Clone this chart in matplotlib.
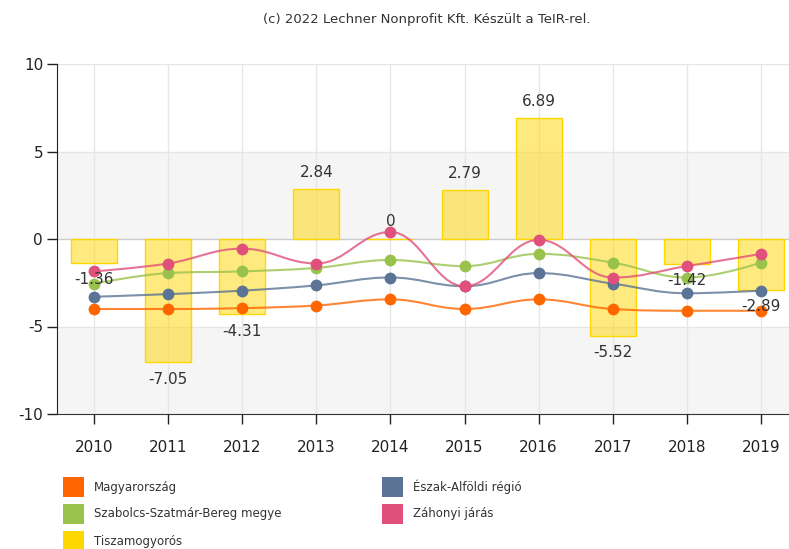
import numpy as np
import matplotlib
matplotlib.use("Agg")
import matplotlib.pyplot as plt
from matplotlib.path import Path
from matplotlib.patches import PathPatch, Patch

plt.rcParams["axes.unicode_minus"] = False

# Data
years = ["2010", "2011", "2012", "2013", "2014", "2015", "2016", "2017", "2018", "2019"]
tiszamogyoros = [-1.36, -7.05, -4.31, 2.84, 0, 2.79, 6.89, -5.52, -1.42, -2.89]
magyarorszag = [-4.0, -4.0, -3.95, -3.8, -3.45, -4.0, -3.45, -4.0, -4.1, -4.1]
eszak_alfold = [-3.3, -3.15, -2.95, -2.65, -2.2, -2.7, -1.95, -2.55, -3.1, -2.95]
szabolcs = [-2.55, -1.95, -1.85, -1.65, -1.2, -1.55, -0.85, -1.35, -2.2, -1.35]
zahonyi = [-1.85, -1.4, -0.55, -1.4, 0.4, -2.7, -0.05, -2.2, -1.55, -0.85]

c_orange = "#ff6600"
c_blue = "#5b7495"
c_green = "#99c24d"
c_pink = "#e0507a"
c_yellow = "#ffd700"


def spline_path(xs, ys):
    # Highcharts-like spline: bezier handles at 0.4 of the gap, clamped to avoid overshoot
    n = len(xs)
    lc = [None] * n
    rc = [None] * n
    for i in range(1, n - 1):
        x, y = xs[i], ys[i]
        px, py = xs[i - 1], ys[i - 1]
        nx, ny = xs[i + 1], ys[i + 1]
        lx, ly = (1.5 * x + px) / 2.5, (1.5 * y + py) / 2.5
        rx, ry = (1.5 * x + nx) / 2.5, (1.5 * y + ny) / 2.5
        corr = (ry - ly) * (rx - x) / (rx - lx) + y - ry
        ly += corr
        ry += corr
        if ly > py and ly > y:
            ly = max(py, y)
            ry = 2 * y - ly
        elif ly < py and ly < y:
            ly = min(py, y)
            ry = 2 * y - ly
        if ry > ny and ry > y:
            ry = max(ny, y)
            ly = 2 * y - ry
        elif ry < ny and ry < y:
            ry = min(ny, y)
            ly = 2 * y - ry
        lc[i] = (lx, ly)
        rc[i] = (rx, ry)
    verts = [(xs[0], ys[0])]
    codes = [Path.MOVETO]
    for i in range(1, n):
        c1 = rc[i - 1] if rc[i - 1] else (xs[i - 1], ys[i - 1])
        c2 = lc[i] if lc[i] else (xs[i], ys[i])
        verts += [c1, c2, (xs[i], ys[i])]
        codes += [Path.CURVE4] * 3
    return Path(verts, codes)


fig = plt.figure(figsize=(7.89, 5.49), dpi=100)
ax = fig.add_axes([57 / 789, 1 - 414 / 549, 741 / 789, 350 / 549])

x = np.arange(len(years))
ax.set_xlim(-0.5, 9.5)
ax.set_ylim(-10, 10)

# alternating background bands
ax.axhspan(0, 5, color="#f5f5f5", zorder=0, lw=0)
ax.axhspan(-10, -5, color="#f5f5f5", zorder=0, lw=0)
for yy in [10, 5, -5]:
    ax.axhline(yy, color="#e6e6e6", lw=1, zorder=0.5)
ax.axhline(0, color="#cccccc", lw=1, zorder=0.5)
for xx in x:
    ax.axvline(xx, color="#e6e6e6", lw=1, zorder=0.5)

ax.bar(x, tiszamogyoros, width=0.62, color=c_yellow, alpha=0.5, zorder=1, lw=0)
ax.bar(x, tiszamogyoros, width=0.62, facecolor="none", edgecolor=c_yellow, lw=1, zorder=1.1)

for vals, col, z in [(magyarorszag, c_orange, 2), (eszak_alfold, c_blue, 2.1),
                     (szabolcs, c_green, 2.2), (zahonyi, c_pink, 2.3)]:
    ax.add_patch(PathPatch(spline_path(x, vals), facecolor="none", edgecolor=col,
                           lw=1.5, alpha=0.8, zorder=z))
    ax.plot(x, vals, "o", color=col, ms=8.5, mec="none", zorder=z + 0.05)

for xi, v in zip(x, tiszamogyoros):
    off = -17 if v < 0 else 17
    ax.annotate(f"{v:g}", (xi, v), xytext=(0, off), textcoords="offset pixels",
                ha="center", va="center", fontsize=11, color="#333333", zorder=3)

for s in ["top", "right"]:
    ax.spines[s].set_visible(False)
ax.spines["left"].set_color("#222222")
ax.spines["bottom"].set_color("#333333")
ax.set_xticks(x)
ax.set_xticklabels(years)
ax.set_yticks([-10, -5, 0, 5, 10])
ax.tick_params(axis="both", labelsize=11, colors="#222222", length=7, width=1, pad=12)
ax.tick_params(axis="y", pad=3)

fig.text(427 / 789, 1 - 20 / 549, "(c) 2022 Lechner Nonprofit Kft. Készült a TeIR-rel.",
         ha="center", va="center", fontsize=9.5, color="#333333")

handles = [Patch(color=c_orange), Patch(color=c_blue), Patch(color=c_green),
           Patch(color=c_pink), Patch(color=c_yellow)]
labels = ["Magyarország", "Észak-Alföldi régió", "Szabolcs-Szatmár-Bereg megye",
          "Záhonyi járás", "Tiszamogyorós"]
# legend rows placed by hand to match the layout
pos = [(63, 487), (382, 487), (63, 514), (382, 514), (63, 541)]
for (px, py), h, lab in zip(pos, handles, labels):
    fig.patches.append(plt.Rectangle((px / 789, 1 - (py + 10) / 549), 21 / 789, 20 / 549,
                                     transform=fig.transFigure, facecolor=h.get_facecolor(),
                                     edgecolor="none"))
    fig.text((px + 31) / 789, 1 - py / 549, lab, ha="left", va="center", fontsize=8.5,
             color="#333333")

fig.savefig("out.png", dpi=100)
